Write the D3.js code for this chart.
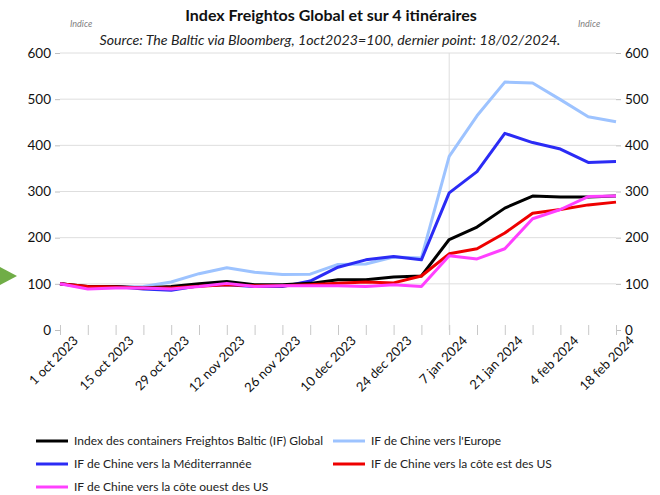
<!DOCTYPE html>
<html>
<head>
<meta charset="utf-8">
<script src="https://cdn.jsdelivr.net/npm/d3@7"></script>
<style>
  body { margin: 0; background: #fff; }
  svg { font-family: Lato, "Open Sans", sans-serif; }
</style>
</head>
<body>
<svg width="660" height="495"></svg>
<script>
// weekly points, 1 oct 2023 -> 18 feb 2024
var weeks = ["2023-10-01","2023-10-08","2023-10-15","2023-10-22","2023-10-29","2023-11-05","2023-11-12",
    "2023-11-19","2023-11-26","2023-12-03","2023-12-10","2023-12-17","2023-12-24","2023-12-31",
    "2024-01-07","2024-01-14","2024-01-21","2024-01-28","2024-02-04","2024-02-11","2024-02-18"];

var tickLabels = ["1 oct 2023", "15 oct 2023", "29 oct 2023", "12 nov 2023", "26 nov 2023", "10 dec 2023",
    "24 dec 2023", "7 jan 2024", "21 jan 2024", "4 feb 2024", "18 feb 2024"];

var yTicks = [0, 100, 200, 300, 400, 500, 600];

var globalIdx = [100, 94, 94, 91, 94, 100, 105, 98, 98, 101, 109, 109, 115, 117, 196, 223, 264, 290, 288, 288, 290];
var europe    = [100, 91, 93, 94, 104, 122, 135, 125, 120, 121, 142, 143, 158, 156, 376, 464, 537, 535, 499, 462, 451];
var medit     = [100, 93, 94, 89, 86, 96, 98, 94, 94, 106, 136, 152, 159, 152, 297, 343, 426, 406, 392, 363, 365];
var eastUS    = [100, 94, 93, 91, 91, 95, 98, 96, 96, 98, 101, 104, 102, 117, 165, 176, 210, 253, 261, 271, 277];
var westUS    = [100, 89, 91, 91, 89, 94, 101, 94, 96, 96, 96, 94, 98, 94, 161, 154, 176, 241, 261, 289, 290];

var seriesNames = ["Index des containers Freightos Baltic (IF) Global", "IF de Chine vers l'Europe",
    "IF de Chine vers la Méditerrannée", "IF de Chine vers la côte est des US", "IF de Chine vers la côte ouest des US"];

function main() {
    var svg = d3.select("svg");
    var parse = d3.timeParse("%Y-%m-%d");
    var dates = weeks.map(parse);

    var x = d3.scaleTime().domain([dates[0], dates[dates.length - 1]]).range([60, 616]);
    var y = d3.scaleLinear().domain([0, 600]).range([330, 53]);

    var series = [
        { name: seriesNames[0], values: globalIdx, color: "#000000" },
        { name: seriesNames[1], values: europe, color: "#9dc3ff" },
        { name: seriesNames[2], values: medit, color: "#2b2bf5" },
        { name: seriesNames[3], values: eastUS, color: "#ee0000" },
        { name: seriesNames[4], values: westUS, color: "#ff40ff" }
    ];

    // titles
    svg.append("text")
        .attr("x", 331).attr("y", 21)
        .attr("text-anchor", "middle")
        .attr("font-size", "16px").attr("font-weight", "bold")
        .attr("fill", "#111")
        .text("Index Freightos Global et sur 4 itinéraires");

    svg.append("text")
        .attr("x", 330).attr("y", 45)
        .attr("text-anchor", "middle")
        .attr("font-size", "14.2px").attr("font-style", "italic")
        .attr("fill", "#222")
        .text("Source: The Baltic via Bloomberg, 1oct2023=100, dernier point: 18/02/2024.");

    svg.append("text").attr("x", 70).attr("y", 27)
        .attr("font-size", "9px").attr("font-style", "italic").attr("fill", "#808080")
        .text("Indice");
    svg.append("text").attr("x", 578).attr("y", 27)
        .attr("font-size", "9px").attr("font-style", "italic").attr("fill", "#808080")
        .text("Indice");

    // green marker
    svg.append("path")
        .attr("d", "M0,267 L17,276 L0,285 Z")
        .attr("fill", "#70ad47");

    // gridlines
    svg.append("g").selectAll("line")
        .data(yTicks.filter(function(d) { return d > 0; }))
        .enter().append("line")
        .attr("x1", 60).attr("x2", 616)
        .attr("y1", function(d) { return y(d); })
        .attr("y2", function(d) { return y(d); })
        .attr("stroke", "#dedede").attr("stroke-width", 1);

    svg.append("line")
        .attr("x1", x(dates[14])).attr("x2", x(dates[14]))
        .attr("y1", y(600)).attr("y2", y(0))
        .attr("stroke", "#dedede");

    // y axes
    var leftAxis = svg.append("g")
        .attr("transform", "translate(60,0)")
        .call(d3.axisLeft(y).tickValues(yTicks).tickSize(5).tickPadding(4));
    var rightAxis = svg.append("g")
        .attr("transform", "translate(616,0)")
        .call(d3.axisRight(y).tickValues(yTicks).tickSize(5).tickPadding(4));
    [leftAxis, rightAxis].forEach(function(a) {
        a.select(".domain").remove();
        a.selectAll("line").attr("stroke", "#bfbfbf");
        a.selectAll("text").attr("font-size", "13.5px").attr("fill", "#111")
            .attr("font-family", "Lato, sans-serif");
    });

    // x axis: tick every week, label every two weeks
    var xAxis = svg.append("g")
        .attr("transform", "translate(0,325)")
        .call(d3.axisBottom(x).tickValues(dates).tickSize(10)
            .tickFormat(function(d, i) { return i % 2 === 0 ? tickLabels[i / 2] : ""; }));
    xAxis.select(".domain").remove();
    xAxis.selectAll("line").attr("stroke", "#c8c8c8");
    xAxis.selectAll("text")
        .attr("font-size", "13px").attr("fill", "#111")
        .attr("font-family", "Lato, sans-serif")
        .style("text-anchor", "end")
        .attr("dx", "0.1em")
        .attr("dy", "0.9em")
        .attr("transform", "rotate(-45)");

    // lines
    var line = d3.line()
        .x(function(d, i) { return x(dates[i]); })
        .y(function(d) { return y(d); });

    var drawOrder = [1, 2, 0, 3, 4];
    drawOrder.forEach(function(k) {
        svg.append("path")
            .datum(series[k].values)
            .attr("fill", "none")
            .attr("stroke", series[k].color)
            .attr("stroke-width", 3)
            .attr("stroke-linejoin", "round")
            .attr("d", line);
    });

    // legend
    var legendPos = [[36, 441], [333, 441], [36, 464], [333, 464], [36, 487]];
    var legend = svg.append("g").selectAll("g")
        .data(series)
        .enter().append("g")
        .attr("transform", function(d, i) { return "translate(" + legendPos[i][0] + "," + legendPos[i][1] + ")"; });
    legend.append("line")
        .attr("x1", 0).attr("x2", 32)
        .attr("stroke", function(d) { return d.color; })
        .attr("stroke-width", 3);
    legend.append("text")
        .attr("x", 38).attr("y", 4.3)
        .attr("font-size", "12px").attr("fill", "#222")
        .text(function(d) { return d.name; });
}
main();
</script>
</body>
</html>
